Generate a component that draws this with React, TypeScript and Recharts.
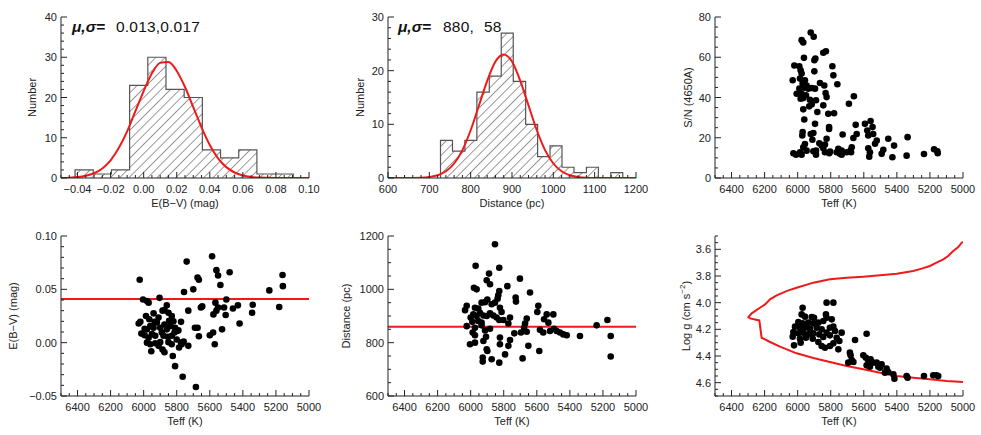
import React from "react";
import { ComposedChart, XAxis, YAxis, Scatter, Area, Line, ReferenceLine } from "recharts";

const FONT = '"Liberation Sans", Arial, Helvetica, sans-serif';
const INK = "#222";
const RED = "#ee1a1a";

// ---- histogram of E(B-V) ----
const ebvEdges = [-0.0415, -0.0305, -0.0195, -0.0085, 0.0025, 0.0135, 0.0245, 0.0355, 0.0465, 0.0575, 0.0685, 0.0795, 0.0905];
const ebvCounts = [2, 1, 2, 23, 30, 22, 20, 7, 5, 7, 1, 1];
const ebvFitX = [-0.05, -0.045, -0.04, -0.035, -0.03, -0.025, -0.02, -0.015, -0.01, -0.005, 0, 0.005, 0.01, 0.015, 0.02, 0.025, 0.03, 0.035, 0.04, 0.045, 0.05, 0.055, 0.06, 0.065, 0.07, 0.075, 0.08, 0.09, 0.1];
const ebvFitN = [0, 0.07, 0.22, 0.54, 1.18, 2.38, 4.4, 7.5, 11.6, 16.6, 21.6, 26.0, 28.6, 28.8, 26.6, 22.6, 17.6, 12.6, 8.2, 4.9, 2.7, 1.37, 0.64, 0.27, 0.1, 0.04, 0.01, 0, 0];

// ---- histogram of distance ----
const distEdges = [727, 756, 786, 815, 845, 874, 903, 933, 962, 992, 1021, 1050, 1080, 1109, 1139, 1168];
const distCounts = [7, 5, 7, 16, 19, 27, 18, 10, 4, 6, 2, 1, 2, 0, 1];
const distFitX = [600, 660, 680, 700, 720, 740, 760, 780, 800, 820, 840, 860, 880, 900, 920, 940, 960, 980, 1000, 1020, 1040, 1060, 1080, 1100, 1200];
const distFitN = [0, 0.02, 0.05, 0.19, 0.51, 1.25, 2.7, 5.2, 8.9, 13.5, 18.1, 21.7, 23.0, 21.7, 18.1, 13.5, 8.9, 5.2, 2.7, 1.25, 0.51, 0.19, 0.06, 0.02, 0];

// ---- Teff vs S/N ----
const snPoints = [
  [5921, 72.3], [5903, 70.2], [5976, 68.5], [5966, 67.3], [5829, 63.0], [5845, 62.2], [5893, 59.4], [5899, 58.5], [5962, 59.7],
  [6020, 55.9], [5990, 55.5], [5790, 55.5], [5899, 53.0], [5982, 53.5], [5976, 51.9], [5784, 51.0], [6030, 48.6], [5760, 46.6],
  [5865, 47.2], [5839, 46.0], [5986, 49.4], [5956, 48.6], [5970, 46.9], [5946, 46.0], [5962, 44.9], [5990, 44.4], [5936, 44.4],
  [5915, 44.7], [5895, 44.4], [6006, 41.9], [5976, 41.9], [5950, 41.1], [5966, 39.7], [5926, 38.9], [5982, 39.4], [5831, 42.2],
  [5825, 40.2], [5889, 38.6], [5915, 36.6], [5930, 35.6], [5845, 36.1], [5881, 32.8], [5966, 34.1], [5815, 31.9], [5780, 32.2],
  [5660, 40.6], [5690, 36.9], [5960, 29.1], [5895, 26.9], [5810, 25.3], [5810, 24.4], [5649, 26.4], [5593, 26.9], [5559, 28.3],
  [5579, 23.6], [5547, 25.3], [5573, 21.1], [5543, 21.9], [5728, 21.6], [5643, 21.9], [5663, 19.9], [5970, 22.8], [5972, 21.1],
  [5905, 22.3], [5921, 21.9], [5825, 19.5], [5911, 19.0], [5522, 18.6], [5532, 17.0], [5452, 19.5], [5335, 20.3], [5417, 16.1],
  [5956, 16.9], [5966, 15.3], [5869, 17.3], [5855, 16.1], [5835, 16.6], [5845, 14.8], [5946, 13.6], [5905, 13.3], [5889, 13.6],
  [5804, 13.1], [5754, 14.5], [5734, 13.6], [5673, 15.3], [5680, 13.6], [5573, 14.8], [5563, 12.8], [5482, 14.0], [5492, 12.0],
  [6026, 12.3], [6010, 11.6], [5976, 11.6], [5986, 12.8], [5889, 11.6], [5835, 12.8], [5809, 12.3], [5764, 12.8], [5744, 12.0],
  [5734, 11.6], [5704, 12.8], [5677, 12.8], [5567, 10.6], [5427, 10.3], [5341, 11.1], [5236, 11.9], [5175, 14.3], [5155, 13.3],
  [5153, 12.3],
];

// ---- Teff vs E(B-V) ----
const ebvPoints = [
  [6024, 0.059], [5740, 0.076], [5586, 0.081], [5560, 0.068], [5550, 0.063], [5480, 0.066], [5536, 0.054], [5674, 0.061],
  [5666, 0.059], [5700, 0.05], [5756, 0.0475], [5240, 0.049], [5160, 0.0635], [5158, 0.053], [5180, 0.0335], [5340, 0.0355],
  [5344, 0.028], [5420, 0.018], [5430, 0.035], [5460, 0.032], [5500, 0.0405], [5504, 0.026], [5514, 0.033], [5550, 0.033],
  [5566, 0.0375], [5560, 0.03], [5578, 0.0265], [5526, 0.0125], [5580, 0.0095], [5600, 0.007], [5570, -0.0015], [5646, 0.034],
  [5654, 0.033], [5730, 0.03], [5690, 0.014], [5674, 0.014], [5666, 0.006], [5758, 0.001], [5770, -0.0015], [5730, -0.003],
  [5824, -0.0125], [5810, -0.022], [5764, -0.032], [5684, -0.0415], [5904, 0.042], [6004, 0.0405], [5980, 0.039], [5970, 0.0375],
  [5860, 0.035], [6030, 0.018], [6020, 0.0195], [5986, 0.025], [5966, 0.022], [5940, 0.0275], [5886, 0.03], [5874, 0.0305],
  [5850, 0.028], [5830, 0.025], [5820, 0.02], [5774, 0.0195], [5910, 0.0235], [5920, 0.019], [5960, 0.0155], [5940, 0.014],
  [5980, 0.0125], [6014, 0.0085], [5994, 0.007], [5900, 0.014], [5874, 0.017], [5860, 0.0125], [5840, 0.0155], [5810, 0.014],
  [5800, 0.011], [5950, 0.008], [5930, 0.0065], [5970, 0.0045], [5880, 0.0065], [5854, 0.0055], [5830, 0.0065], [5814, 0.0095],
  [5790, 0.0115], [5980, 0.0], [5960, -0.0015], [5930, -0.0005], [5910, -0.003], [5954, -0.008], [5886, -0.0065], [5874, -0.009],
  [5900, 0.0005], [5786, -0.0045], [5774, 0.0], [5850, 0.0005], [5800, 0.003], [5830, -0.0015], [5994, 0.013], [5934, 0.0195],
  [5890, 0.0095], [5846, 0.0205],
];
const ebvMean = 0.041;

// ---- Teff vs distance ----
const distPoints = [
  [5853, 1169], [5970, 1088], [5827, 1081], [5702, 1040], [5889, 1059], [5903, 1034], [5883, 1019], [5980, 1006], [5964, 1000],
  [5778, 1012], [5827, 994], [5833, 978], [5837, 965], [5641, 988], [5728, 969], [5726, 954], [6024, 938], [6034, 922],
  [5974, 931], [5954, 928], [5934, 950], [5899, 962], [5913, 952], [5873, 944], [5853, 950], [5823, 931], [5813, 915],
  [5984, 906], [5964, 900], [5944, 912], [5923, 902], [6000, 894], [5990, 878], [5954, 881], [5934, 875], [5903, 900],
  [5883, 910], [5863, 902], [5843, 894], [5827, 885], [5802, 885], [5762, 894], [5772, 872], [5591, 938], [5597, 915],
  [5540, 906], [5500, 906], [5556, 888], [5530, 875], [5661, 890], [5671, 872], [5677, 856], [6024, 862], [5974, 856],
  [5934, 865], [5883, 852], [5988, 838], [5974, 828], [5913, 846], [5736, 835], [5696, 838], [5661, 841], [5581, 848],
  [5561, 838], [5520, 844], [5496, 852], [5480, 844], [5460, 838], [5440, 831], [5419, 828], [5339, 825], [5238, 865],
  [5173, 885], [5153, 825], [5153, 748], [6004, 794], [5974, 800], [5907, 822], [5923, 806], [5903, 775], [5823, 819],
  [5823, 794], [5762, 810], [5772, 788], [5792, 756], [5651, 788], [5585, 769], [5686, 741], [5927, 744], [5927, 729],
  [5873, 738], [5827, 725], [5899, 769],
];
const distMean = 860;

// ---- Teff vs log g ----
const loggPoints = [
  [5825, 4.0], [5784, 4.0], [5970, 4.038], [5976, 4.088], [5956, 4.105], [5915, 4.108], [5901, 4.113], [5829, 4.088],
  [5825, 4.113], [5996, 4.145], [5970, 4.155], [5936, 4.15], [5905, 4.155], [5875, 4.15], [5845, 4.138], [5794, 4.125],
  [6016, 4.18], [5986, 4.188], [5956, 4.188], [5926, 4.195], [5885, 4.188], [5855, 4.2], [5805, 4.188], [5784, 4.18],
  [6026, 4.22], [5996, 4.23], [5966, 4.225], [5936, 4.238], [5905, 4.23], [5869, 4.238], [5825, 4.225], [5774, 4.213],
  [5734, 4.225], [6030, 4.255], [5986, 4.27], [5950, 4.263], [5909, 4.27], [5845, 4.258], [5805, 4.245], [5764, 4.263],
  [5982, 4.3], [5875, 4.295], [5855, 4.325], [5835, 4.338], [5805, 4.325], [5784, 4.305], [5754, 4.35], [5748, 4.288],
  [6022, 4.32], [5653, 4.28], [5583, 4.233], [5684, 4.375], [5680, 4.395], [5673, 4.43], [5694, 4.45], [5663, 4.445],
  [5603, 4.395], [5587, 4.413], [5573, 4.438], [5559, 4.425], [5583, 4.47], [5543, 4.45], [5563, 4.48], [5522, 4.45],
  [5512, 4.48], [5502, 4.488], [5492, 4.463], [5462, 4.495], [5452, 4.52], [5472, 4.525], [5421, 4.538], [5415, 4.57],
  [5341, 4.55], [5335, 4.563], [5236, 4.55], [5180, 4.545], [5160, 4.545], [5150, 4.55],
];
const loggTrack = [
  [5000, 3.545], [5008, 3.55], [5030, 3.585], [5059, 3.613], [5090, 3.65], [5119, 3.675], [5160, 3.7], [5200, 3.725],
  [5250, 3.745], [5301, 3.763], [5401, 3.783], [5502, 3.795], [5603, 3.805], [5704, 3.813], [5805, 3.825], [5905, 3.85],
  [6006, 3.888], [6060, 3.91], [6127, 3.945], [6167, 3.975], [6197, 4.013], [6228, 4.038], [6278, 4.08], [6298, 4.108],
  [6288, 4.118], [6232, 4.133], [6218, 4.263], [6167, 4.295], [6107, 4.33], [6006, 4.38], [5905, 4.415], [5805, 4.445],
  [5704, 4.475], [5603, 4.5], [5502, 4.525], [5401, 4.55], [5301, 4.563], [5200, 4.575], [5099, 4.588], [5000, 4.595],
];

const pairs = (a: number[][]) => a.map(([x, y]) => ({ x, y }));
const fit = (xs: number[], ys: number[]) => xs.map((x, i) => ({ x, y: ys[i] }));
function steps(edges: number[], counts: number[]) {
  const out = [{ x: edges[0], y: 0 }];
  counts.forEach((c, i) => out.push({ x: edges[i], y: c }));
  out.push({ x: edges[edges.length - 1], y: 0 });
  return out;
}
function range(a: number, b: number, s: number) {
  const out: number[] = [];
  for (let i = 0; a + i * s <= b + s * 1e-6; i++) out.push(+(a + i * s).toFixed(6));
  return out;
}

const teffMajor = range(5000, 6400, 200);
const teffMinor = range(5000, 6500, 50);
const signed = (d: number) => (v: number) => (v < 0 ? "\u2212" : "") + Math.abs(v).toFixed(d);
const plain = (v: number) => String(Math.round(v));

function tickRenderer(side: string, majors: number[], fmt?: (v: number) => string) {
  return (p: any) => {
    const v = p.payload.value;
    const major = majors.some((m) => Math.abs(m - v) < 1e-7);
    const len = major ? 6 : 3;
    const { x, y } = p;
    let line = null;
    let label = null;
    const ts = { fontSize: 11, fontFamily: FONT, fill: INK, stroke: "none" };
    if (side === "bottom") {
      line = <line x1={x} y1={y} x2={x} y2={y - len} />;
      if (major && fmt) label = <text x={x} y={y + 11} textAnchor="middle" dominantBaseline="central" style={ts}>{fmt(v)}</text>;
    } else if (side === "top") {
      line = <line x1={x} y1={y} x2={x} y2={y + len} />;
    } else if (side === "left") {
      line = <line x1={x} y1={y} x2={x + len} y2={y} />;
      if (major && fmt) label = <text x={x - 4} y={y} textAnchor="end" dominantBaseline="central" style={ts}>{fmt(v)}</text>;
    } else {
      line = <line x1={x} y1={y} x2={x - len} y2={y} />;
    }
    return (
      <g stroke={INK} strokeWidth={1}>
        {line}
        {label}
      </g>
    );
  };
}

const ML = 44, MT = 8, MR = 16, XB = 22;

function panel(opts: {
  key: string; bx: number; by: number; bw: number; bh: number;
  xDomain: number[]; xMajor: number[]; xMinor: number[]; xFmt: (v: number) => string; xRev?: boolean;
  yDomain: number[]; yMajor: number[]; yMinor: number[]; yFmt: (v: number) => string; yRev?: boolean;
  series: React.ReactNode[];
}) {
  const common = { type: "number" as const, dataKey: "x", allowDataOverflow: true, tickSize: 0, tickMargin: 0, tickLine: false, interval: 0 as const, axisLine: { stroke: INK } };
  return (
    <div key={opts.key} style={{ position: "absolute", left: opts.bx - ML, top: opts.by - MT }}>
      <ComposedChart width={ML + opts.bw + MR} height={MT + opts.bh + XB} margin={{ top: MT, right: MR, bottom: 0, left: 0 }}>
        <XAxis xAxisId="b" {...common} domain={opts.xDomain} ticks={opts.xMinor} reversed={opts.xRev} height={XB} tick={tickRenderer("bottom", opts.xMajor, opts.xFmt)} />
        <XAxis xAxisId="t" {...common} orientation="top" domain={opts.xDomain} ticks={opts.xMinor} reversed={opts.xRev} height={0} tick={tickRenderer("top", opts.xMajor)} />
        <YAxis yAxisId="l" {...common} dataKey="y" domain={opts.yDomain} ticks={opts.yMinor} reversed={opts.yRev} width={ML} tick={tickRenderer("left", opts.yMajor, opts.yFmt)} />
        <YAxis yAxisId="r" {...common} dataKey="y" orientation="right" domain={opts.yDomain} ticks={opts.yMinor} reversed={opts.yRev} width={0} tick={tickRenderer("right", opts.yMajor)} />
        {opts.series}
      </ComposedChart>
    </div>
  );
}

const dot = (p: any) => <circle cx={p.cx} cy={p.cy} r={3.3} fill="#000" />;

function dots(key: string, data: number[][]) {
  return <Scatter key={key} xAxisId="b" yAxisId="l" data={pairs(data)} shape={dot} isAnimationActive={false} />;
}

export default function App() {
  const top = 17, topH = 161, bot = 236, botH = 160, W = 248;
  const cols = [61, 388, 715];

  const hist = (key: string, edges: number[], counts: number[]) => (
    <Area key={key} xAxisId="b" yAxisId="l" data={steps(edges, counts)} dataKey="y" type="stepAfter" stroke="#555" strokeWidth={1.2} fill="url(#hatch)" fillOpacity={1} dot={false} activeDot={false} isAnimationActive={false} />
  );
  const curve = (key: string, data: { x: number; y: number }[], smooth: boolean) => (
    <Line key={key} xAxisId="b" yAxisId="l" data={data} dataKey="y" type={smooth ? "monotone" : "linear"} stroke={RED} strokeWidth={2} dot={false} activeDot={false} isAnimationActive={false} />
  );

  const txt = { fontFamily: FONT, fontSize: 11, fill: INK };
  const ytitle = (x: number, y: number, s: React.ReactNode) => (
    <text x={x} y={y} transform={`rotate(-90 ${x} ${y})`} textAnchor="middle" dominantBaseline="central" style={txt}>{s}</text>
  );
  const xtitle = (x: number, y: number, s: string) => (
    <text x={x} y={y} textAnchor="middle" dominantBaseline="central" style={txt}>{s}</text>
  );
  const ann = { fontFamily: FONT, fontSize: 15.5, fill: "#111" };
  const greek = { fontFamily: FONT, fontSize: 15.5, fill: "#111", fontWeight: 700, fontStyle: "italic" as const };

  return (
    <div style={{ position: "absolute", left: 0, top: 0, width: 981, height: 435, background: "#fff", overflow: "hidden" }}>
      <svg width={0} height={0} style={{ position: "absolute" }}>
        <defs>
          <pattern id="hatch" patternUnits="userSpaceOnUse" width={6.6} height={6.6} patternTransform="rotate(45)">
            <line x1={0} y1={0} x2={0} y2={6.6} stroke="#333" strokeWidth={1} />
          </pattern>
        </defs>
      </svg>

      {panel({
        key: "p1", bx: cols[0], by: top, bw: W, bh: topH,
        xDomain: [-0.05, 0.1], xMajor: range(-0.04, 0.1, 0.02), xMinor: range(-0.05, 0.1, 0.005), xFmt: signed(2),
        yDomain: [0, 40], yMajor: range(0, 40, 10), yMinor: range(0, 40, 2), yFmt: plain,
        series: [hist("h", ebvEdges, ebvCounts), curve("g", fit(ebvFitX, ebvFitN), true)],
      })}
      {panel({
        key: "p2", bx: cols[1], by: top, bw: W, bh: topH,
        xDomain: [600, 1200], xMajor: range(600, 1200, 100), xMinor: range(600, 1200, 20), xFmt: plain,
        yDomain: [0, 30], yMajor: range(0, 30, 10), yMinor: range(0, 30, 2), yFmt: plain,
        series: [hist("h", distEdges, distCounts), curve("g", fit(distFitX, distFitN), true)],
      })}
      {panel({
        key: "p3", bx: cols[2], by: top, bw: W, bh: topH,
        xDomain: [5000, 6500], xMajor: teffMajor, xMinor: teffMinor, xFmt: plain, xRev: true,
        yDomain: [0, 80], yMajor: range(0, 80, 20), yMinor: range(0, 80, 5), yFmt: plain,
        series: [dots("s", snPoints)],
      })}
      {panel({
        key: "p4", bx: cols[0], by: bot, bw: W, bh: botH,
        xDomain: [5000, 6500], xMajor: teffMajor, xMinor: teffMinor, xFmt: plain, xRev: true,
        yDomain: [-0.05, 0.1], yMajor: range(-0.05, 0.1, 0.05), yMinor: range(-0.05, 0.1, 0.01), yFmt: signed(2),
        series: [
          <ReferenceLine key="m" xAxisId="b" yAxisId="l" y={ebvMean} stroke={RED} strokeWidth={2} />,
          dots("s", ebvPoints),
        ],
      })}
      {panel({
        key: "p5", bx: cols[1], by: bot, bw: W, bh: botH,
        xDomain: [5000, 6500], xMajor: teffMajor, xMinor: teffMinor, xFmt: plain, xRev: true,
        yDomain: [600, 1200], yMajor: range(600, 1200, 200), yMinor: range(600, 1200, 50), yFmt: plain,
        series: [
          <ReferenceLine key="m" xAxisId="b" yAxisId="l" y={distMean} stroke={RED} strokeWidth={2} />,
          dots("s", distPoints),
        ],
      })}
      {panel({
        key: "p6", bx: cols[2], by: bot, bw: W, bh: botH,
        xDomain: [5000, 6500], xMajor: teffMajor, xMinor: teffMinor, xFmt: plain, xRev: true,
        yDomain: [3.5, 4.7], yMajor: range(3.6, 4.6, 0.2), yMinor: range(3.5, 4.7, 0.05), yFmt: (v) => v.toFixed(1), yRev: true,
        series: [curve("t", pairs(loggTrack), false), dots("s", loggPoints)],
      })}

      <svg width={981} height={435} style={{ position: "absolute", left: 0, top: 0, pointerEvents: "none" }}>
        {xtitle(185, 202.5, "E(B\u2212V) (mag)")}
        {xtitle(512, 202.5, "Distance (pc)")}
        {xtitle(839, 202.5, "Teff (K)")}
        {xtitle(185, 420.5, "Teff (K)")}
        {xtitle(512, 420.5, "Teff (K)")}
        {xtitle(839, 420.5, "Teff (K)")}
        {ytitle(32, 97.5, "Number")}
        {ytitle(360, 97.5, "Number")}
        {ytitle(688, 97.5, "S/N (4650A)")}
        {ytitle(12.5, 316, "E(B\u2212V) (mag)")}
        {ytitle(346, 316, "Distance (pc)")}
        {ytitle(685.5, 316, <>Log g (cm s<tspan dy={-4} fontSize={8}>{"\u22122"}</tspan><tspan dy={4}>)</tspan></>)}
        <text x={72} y={26.5} dominantBaseline="central" style={greek}>{"\u03bc,\u03c3="}</text>
        <text x={116} y={26.5} dominantBaseline="central" style={ann} letterSpacing={0.2}>0.013,0.017</text>
        <text x={398} y={26} dominantBaseline="central" style={greek}>{"\u03bc,\u03c3="}</text>
        <text x={443} y={26} dominantBaseline="central" style={ann} letterSpacing={0.2}>880,</text>
        <text x={484} y={26} dominantBaseline="central" style={ann} letterSpacing={0.2}>58</text>
      </svg>
    </div>
  );
}
